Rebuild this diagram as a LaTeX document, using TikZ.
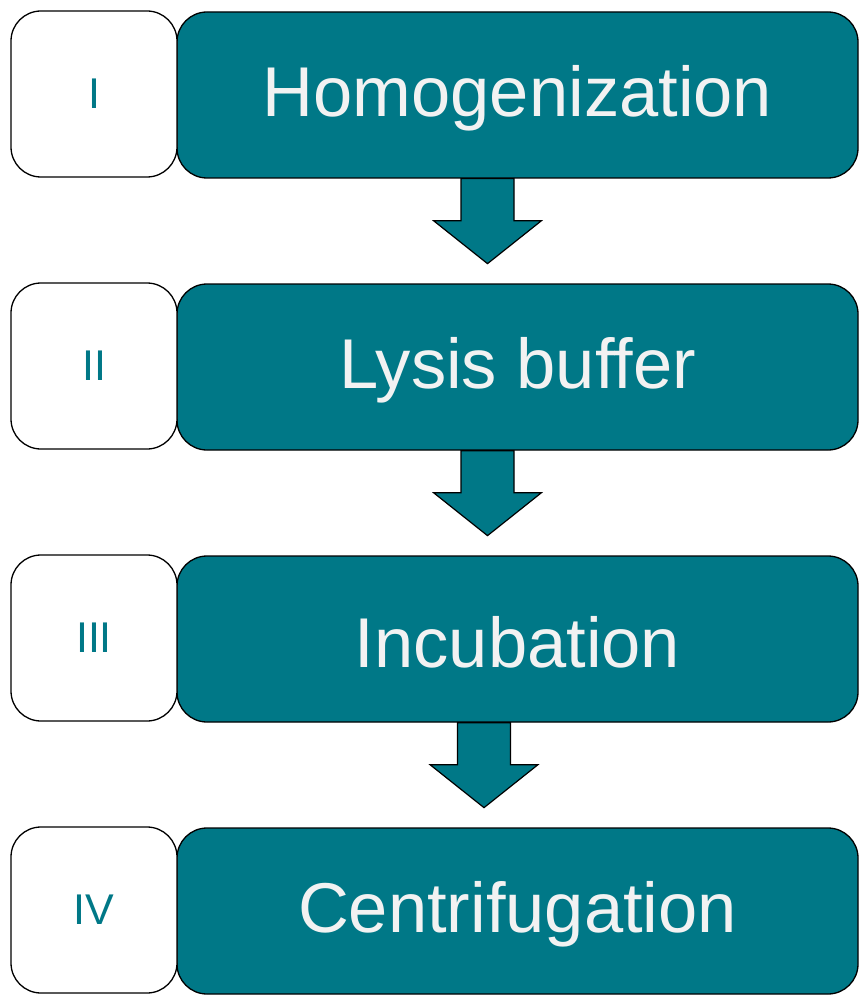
\documentclass[tikz,border=0pt]{standalone}
\usepackage{fontspec}
\setmainfont{Liberation Sans}
\usetikzlibrary{calc}
\definecolor{teal1}{RGB}{0,120,135}
\definecolor{offwhite}{RGB}{242,242,242}
\tikzset{
  numbox/.style={draw=black, line width=1.3pt, fill=white, rounded corners=30pt,
    minimum width=166pt, minimum height=166pt, inner sep=0pt,
    text=teal1, font=\fontsize{43}{50}\selectfont},
  stepbox/.style={draw=black, line width=1.3pt, fill=teal1, rounded corners=30pt,
    minimum width=681pt, minimum height=166pt, inner sep=0pt,
    text=offwhite, font=\fontsize{70.5}{80}\selectfont},
  steptext/.style={text=offwhite, font=\fontsize{70.5}{80}\selectfont, inner sep=0pt},
  flowarrow/.style={draw=black, line width=1.2pt, fill=teal1, line join=miter}
}
\newcommand\mydownarrow[2]{%
  % #1 source node, #2 horizontal offset of arrow centre from node centre
  \draw[flowarrow] ($(#1.south)+(#2-26.5,0)$) -- ++(0,42) -- ++(-27.5,0)
    -- ++(54,43) -- ++(54,-43) -- ++(-27.5,0) -- ++(0,-42) -- cycle;
}
\begin{document}
\begin{tikzpicture}[x=1pt,y=-1pt]
\useasboundingbox (0,0) rectangle (865,995);
\node[stepbox] (s1) at (517.5,95) {};
\node[stepbox] (s2) at (517.5,367) {};
\node[stepbox] (s3) at (517.5,639) {};
\node[stepbox] (s4) at (517.5,911) {};
\node[steptext] (t1) at ($(s1.center)+(0,3)$) {Homogenization};
\node[steptext] (t2) at ($(s2.center)+(0,3)$) {Lysis buffer};
\node[steptext] (t3) at ($(s3.center)+(0,3)$) {Incubation};
\node[steptext] (t4) at ($(s4.center)+(0,3)$) {Centrifugation};
\node[numbox] (n1) at (94,94) {I};
\node[numbox] (n2) at (94,366) {II};
\node[numbox] (n3) at (94,638) {III};
\node[numbox] (n4) at (94,910) {IV};
\mydownarrow{s1}{-30}
\mydownarrow{s2}{-30}
\mydownarrow{s3}{-33.5}
\end{tikzpicture}
\end{document}
